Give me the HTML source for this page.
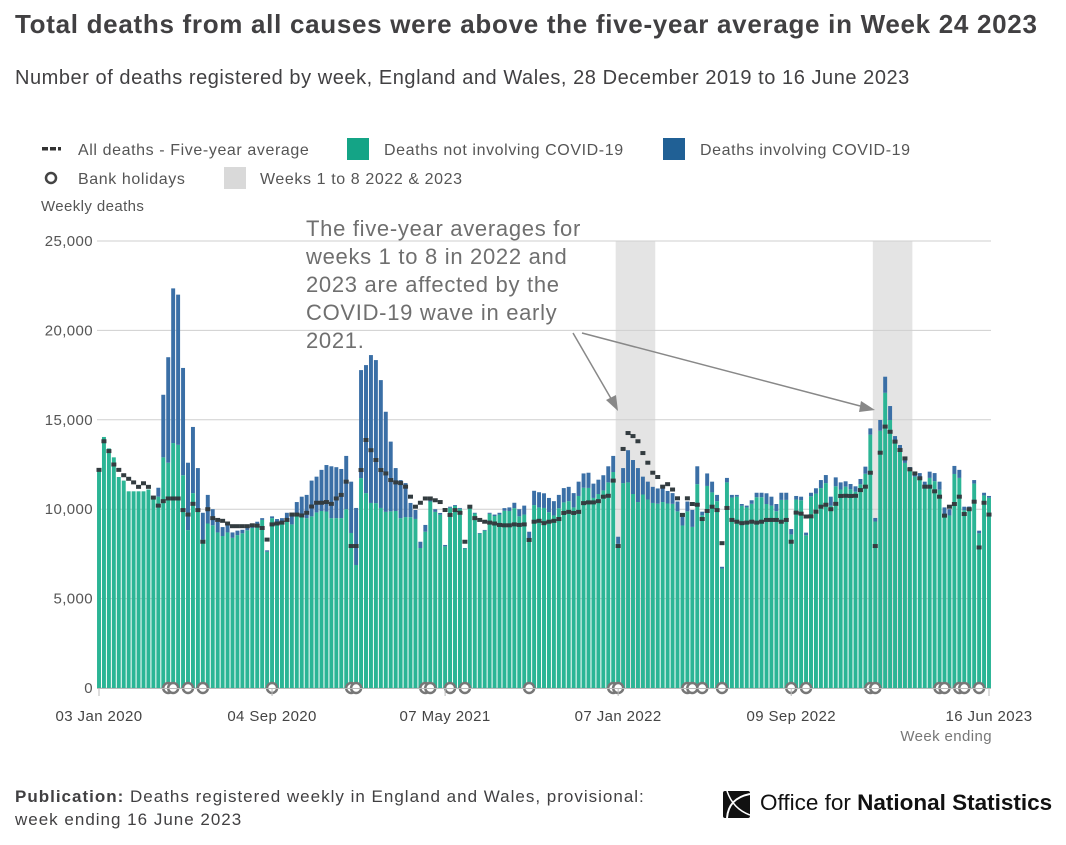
<!DOCTYPE html>
<html><head><meta charset="utf-8">
<style>
html,body{margin:0;padding:0;background:#fff;}
body{width:1066px;height:845px;position:relative;overflow:hidden;font-family:"Liberation Sans",sans-serif;color:#323132;}
.t{position:absolute;white-space:nowrap;}
</style></head>
<body>
<div class="t" style="left:15px;top:9px;font-size:26px;letter-spacing:0.7px;font-weight:bold;color:#414042;">Total deaths from all causes were above the five-year average in Week 24 2023</div>
<div class="t" style="left:15px;top:67px;font-size:20px;letter-spacing:0.55px;color:#414042;">Number of deaths registered by week, England and Wales, 28 December 2019 to 16 June 2023</div>

<svg id="chart" width="1066" height="845" style="position:absolute;left:0;top:0;" font-family="Liberation Sans, sans-serif">
  <g font-size="16" fill="#555" letter-spacing="0.6">
    <g>
      <rect x="42" y="147" width="6" height="3.5" fill="#333"/><rect x="50" y="147" width="6" height="3.5" fill="#333"/><rect x="58" y="147" width="3" height="3.5" fill="#333"/>
      <text x="78" y="155">All deaths - Five-year average</text></g>
    <g>
      <rect x="347" y="138" width="22" height="22" fill="#14a486"/>
      <text x="384" y="155">Deaths not involving COVID-19</text></g>
    <g>
      <rect x="663" y="138" width="22" height="22" fill="#206095"/>
      <text x="700" y="155">Deaths involving COVID-19</text></g>
    <g>
      <circle cx="51" cy="178" r="5" fill="none" stroke="#444" stroke-width="2.5"/>
      <text x="78" y="184">Bank holidays</text></g>
    <g>
      <rect x="224" y="167" width="22" height="22" fill="#d9d9d9"/>
      <text x="260" y="184">Weeks 1 to 8 2022 &amp; 2023</text></g>
  </g>
  <text x="41" y="211" font-size="15" fill="#555" letter-spacing="0.4">Weekly deaths</text>
  <g id="bands"></g>
  <g id="grid"></g>
  <g id="bars"></g>
  <g id="avg"></g>
  <g id="hol"></g>
  <g id="xaxis"></g>
  <text x="992" y="741" text-anchor="end" font-size="15" fill="#777" letter-spacing="0.4">Week ending</text>
  <g>
    <text font-size="22" fill="#6f6f6f" letter-spacing="0.7">
      <tspan x="306" y="236">The five-year averages for</tspan>
      <tspan x="306" y="264">weeks 1 to 8 in 2022 and</tspan>
      <tspan x="306" y="292">2023 are affected by the</tspan>
      <tspan x="306" y="320">COVID-19 wave in early</tspan>
      <tspan x="306" y="348">2021.</tspan>
    </text>
    <line x1="573" y1="333" x2="613" y2="402" stroke="#888" stroke-width="1.5"/>
    <polygon points="618,411 606,400 616,395" fill="#888"/>
    <line x1="582" y1="333" x2="864" y2="407" stroke="#888" stroke-width="1.5"/>
    <polygon points="875,410 861,401 859,412" fill="#888"/>
  </g>
</svg>

<div class="t" style="left:15px;top:785px;font-size:17px;letter-spacing:1px;line-height:23px;color:#414042;"><b>Publication:</b> Deaths registered weekly in England and Wales, provisional:<br>week ending 16 June 2023</div>
<div style="position:absolute;left:723px;top:791px;width:27px;height:27px;background:#111;border-radius:2px;overflow:hidden;">
  <svg width="27" height="27"><path d="M27 3 C12 6 5 14 4 27" stroke="#fff" stroke-width="2" fill="none"/><path d="M4 0 C8 12 16 20 27 24" stroke="#fff" stroke-width="1.5" fill="none"/></svg>
</div>
<div class="t" style="left:760px;top:790px;font-size:22.5px;color:#111;">Office for <b>National Statistics</b></div>

<script>
const totals = [12300,14040,13400,12900,11800,11600,11000,11000,11000,11000,11100,10700,11200,16400,18500,22350,22000,17900,12600,14600,12300,9800,10800,10000,9300,9000,9100,8700,8800,8850,9000,9100,9300,9500,7700,9600,9450,9500,9800,9800,10400,10700,10800,11600,11820,12200,12470,12400,12350,12250,12980,11540,10070,17780,18060,18620,18340,17220,15450,13780,12300,11630,11460,10350,9955,8180,9120,10630,10000,9790,8000,10140,10230,10070,7830,10140,9800,8670,8840,9800,9700,9800,10060,10100,10360,10000,10200,8740,11030,10950,10890,10630,10450,10800,11180,11250,10900,11540,12000,12040,11430,11650,11900,12400,12980,8460,12300,13300,12750,12300,11820,11540,11250,11160,11200,11020,10900,10430,9790,10430,9960,12400,9860,12000,11540,10800,6780,11750,10800,10800,10290,10200,10500,10920,10920,10890,10700,10290,10920,10920,8890,10740,10700,8690,10920,11170,11630,11910,10700,11780,11500,11560,11410,11280,11690,12380,14520,9510,14990,17410,15770,14090,13590,12840,12360,12020,12020,11540,12100,12020,11540,10100,10000,12420,12200,10140,10150,11630,8800,10920,10740];
const covid = [0,0,0,0,0,0,0,0,0,0,0,100,500,3500,5900,8650,8400,6000,3770,3700,2350,1500,1600,900,600,500,400,300,250,200,180,150,130,100,80,100,140,220,450,650,700,1000,1300,2000,2000,2300,2600,2900,2850,2750,2980,2870,3190,6040,7160,8270,8000,7150,5600,3900,2400,2130,1900,800,500,350,380,200,150,100,80,60,50,50,30,40,40,40,40,60,80,100,150,200,300,400,500,500,800,850,820,800,800,750,800,800,800,800,800,850,800,800,850,900,900,400,840,1800,1900,1900,1000,1000,900,850,800,700,600,550,700,550,950,1000,200,700,600,350,100,250,150,100,100,100,200,250,250,600,500,400,400,400,300,200,200,150,200,300,450,450,500,500,400,300,300,300,300,400,350,200,600,900,780,400,300,250,200,200,200,180,350,450,450,420,350,450,450,200,200,200,150,150,100];
const fiveYearAvg = [12200,13800,13250,12500,12200,11900,11700,11500,11250,11450,11250,10650,10200,10450,10600,10600,10600,9950,9700,10300,9950,8180,10000,9500,9400,9350,9200,9050,9050,9050,9050,9100,9080,8950,8300,9150,9200,9250,9400,9700,9700,9650,9800,10150,10360,10360,10400,10300,10600,10800,11540,7940,7940,12190,13870,13300,12750,12190,12000,11630,11500,11460,11260,10700,10140,10360,10600,10600,10500,10400,9955,9680,9950,9800,8180,10140,9500,9400,9300,9250,9200,9120,9100,9100,9150,9120,9150,8280,9300,9350,9220,9300,9350,9450,9790,9850,9790,9850,10340,10380,10380,10450,10700,10750,11600,7940,13370,14260,14090,13800,13140,12600,12040,11800,11260,11400,11100,10610,9680,10610,10290,10250,9450,9900,10140,9950,8100,10070,9400,9300,9220,9250,9300,9250,9300,9400,9400,9400,9300,9400,8180,9810,9750,9590,9600,9860,10140,10250,10000,10300,10740,10750,10740,10750,11070,11260,12040,7940,13160,14620,14330,13780,13310,12840,12230,12000,11730,11260,11260,11000,10700,9640,10140,10290,10700,9730,10000,10420,7860,10360,9700];
const bankHolidayWeeks = [14,15,18,21,35,51,52,66,67,71,74,87,104,105,119,120,122,126,140,143,156,157,170,171,174,175,178];
const shadedWeekRanges = [[105,112],[157,164]];
const yTicks = [0,5000,10000,15000,20000,25000];
const yTickLabels = ["0","5,000","10,000","15,000","20,000","25,000"];
const xTickWeeks = [0,35,70,105,140,180];
const xTickLabels = ["03 Jan 2020","04 Sep 2020","07 May 2021","07 Jan 2022","09 Sep 2022","16 Jun 2023"];

const NS="http://www.w3.org/2000/svg";
const X0=99, X1=989, Y0=688, Y1=241, YMAX=25000;
const n=totals.length;
const step=(X1-X0)/(n-1);
function x(i){return X0+i*step;}
function y(v){return Y0-(v/YMAX)*(Y0-Y1);}
function mk(tag,attrs,parent){const e=document.createElementNS(NS,tag);for(const k in attrs)e.setAttribute(k,attrs[k]);parent.appendChild(e);return e;}

const gb=document.getElementById('bands');
shadedWeekRanges.forEach(r=>{
  const e=mk('rect',{x:x(r[0])-step/2,y:Y1,width:(r[1]-r[0]+1)*step,height:Y0-Y1,fill:'#e4e4e4'},gb);
  
  
});
const gg=document.getElementById('grid');
yTicks.forEach((t,k)=>{
  const l=mk('line',{x1:X0-2,x2:X1+2,y1:y(t),y2:y(t),stroke:'#cfcfcf','stroke-width':1},gg);
  
  
  const tx=mk('text',{x:93,y:y(t)+5,'text-anchor':'end','font-size':15,fill:'#555','letter-spacing':0.4},gg);
  tx.textContent=yTickLabels[k];
  
  
});
const gbar=document.getElementById('bars');
const bw=step-1;
for(let i=0;i<n;i++){
  const nc=totals[i]-covid[i];
  const r1=mk('rect',{x:x(i)-bw/2,y:y(nc),width:bw,height:Y0-y(nc),fill:'#2bb595'},gbar);
  
  
  if(covid[i]>0){
    const r2=mk('rect',{x:x(i)-bw/2,y:y(totals[i]),width:bw,height:y(nc)-y(totals[i]),fill:'#3a6fa6'},gbar);
    
    
  }
}
const ga=document.getElementById('avg');
for(let i=0;i<n;i++){
  const d=mk('rect',{x:x(i)-2.5,y:y(fiveYearAvg[i])-2,width:5,height:4,fill:'#333c40'},ga);
  
  
}
const gh=document.getElementById('hol');
bankHolidayWeeks.forEach(i=>{
  const c=mk('circle',{cx:x(i),cy:Y0,r:5,fill:'#fff',stroke:'#777','stroke-width':2.5},gh);
  
  
});
const gx=document.getElementById('xaxis');
const ax=mk('line',{x1:X0-2,x2:X1+2,y1:Y0+0.5,y2:Y0+0.5,stroke:'#bbb'},gx);


xTickWeeks.forEach((w,k)=>{
  const tk=mk('line',{x1:x(w),x2:x(w),y1:Y0,y2:Y0+8,stroke:'#bbb'},gx);
  
  
  const t=mk('text',{x:x(w),y:721,'text-anchor':'middle','font-size':15,fill:'#444','letter-spacing':0.4},gx);
  t.textContent=xTickLabels[k];
  
  
});
</script>
</body></html>
